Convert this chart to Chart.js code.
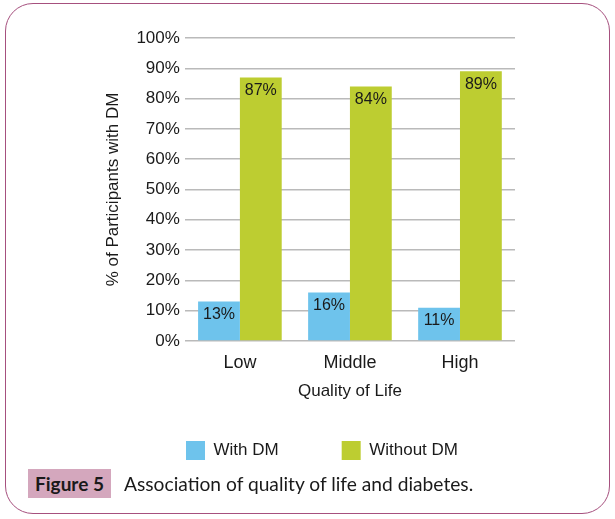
<!DOCTYPE html>
<html>
<head>
<meta charset="utf-8">
<script src="https://cdn.jsdelivr.net/npm/chart.js@4.4.1/dist/chart.umd.min.js"></script>
<style>
  html, body { margin: 0; padding: 0; width: 615px; height: 519px; overflow: hidden; background: #fff; }
  #frame { position: absolute; left: 5px; top: 3px; width: 605px; height: 511px; box-sizing: border-box;
           border: 1.5px solid #a6507e; border-radius: 28px; }
  #wrap { position: absolute; left: 0; top: 0; width: 615px; height: 480px; }
  #figlabel { position: absolute; left: 28px; top: 469px; width: 83px; height: 29px; background: #d4a7bd;
              font-family: Lato, "Open Sans", sans-serif; font-weight: bold; font-size: 19px; color: #1a1a1a;
              line-height: 29px; text-align: center; }
  #figtext { position: absolute; left: 124px; top: 469px; height: 29px; line-height: 29px;
             font-family: Lato, "Open Sans", sans-serif; font-size: 19.2px; color: #1a1a1a; white-space: nowrap; }
</style>
</head>
<body>
<div id="frame"></div>
<div id="wrap"><canvas id="c" width="615" height="480"></canvas></div>
<div id="figlabel">Figure 5</div>
<div id="figtext">Association of quality of life and diabetes.</div>
<script>
const categories = ["Low", "Middle", "High"];
const withDM = [13, 16, 11];
const withoutDM = [87, 84, 89];
const seriesNames = ["With DM", "Without DM"];
const yTicks = [0, 10, 20, 30, 40, 50, 60, 70, 80, 90, 100];

const FONT = '"Liberation Sans", Arial, sans-serif';

const valueLabels = {
  id: 'valueLabels',
  afterDatasetsDraw(chart) {
    const ctx = chart.ctx;
    ctx.save();
    ctx.font = '16px ' + FONT;
    ctx.fillStyle = '#1a1a1a';
    ctx.textAlign = 'center';
    ctx.textBaseline = 'middle';
    chart.data.datasets.forEach((ds, di) => {
      chart.getDatasetMeta(di).data.forEach((bar, i) => {
        ctx.fillText(ds.data[i] + '%', bar.x, bar.y + 13);
      });
    });
    ctx.restore();
  }
};

const legendNudge = {
  id: 'legendNudge',
  afterLayout(chart) {
    const lg = chart.legend;
    if (!lg) return;
    const dx = 17;
    lg.left += dx; lg.right += dx;
    lg.top = 378; lg.bottom = 475;
  }
};

new Chart(document.getElementById('c'), {
  type: 'bar',
  data: {
    labels: categories,
    datasets: [
      { label: seriesNames[0], data: withDM, backgroundColor: '#6EC3EC', borderWidth: 0,
        categoryPercentage: 0.76, barPercentage: 1.0 },
      { label: seriesNames[1], data: withoutDM, backgroundColor: '#BDCD31', borderWidth: 0,
        categoryPercentage: 0.76, barPercentage: 1.0 }
    ]
  },
  options: {
    responsive: false,
    animation: false,
    layout: { padding: { left: 95, right: 100, top: 38, bottom: 18 } },
    plugins: {
      legend: {
        position: 'bottom',
        maxHeight: 60,
        labels: { boxWidth: 19, boxHeight: 19, padding: 63, color: '#1a1a1a',
                  font: { family: FONT, size: 17 } }
      },
      tooltip: { enabled: false }
    },
    scales: {
      x: {
        grid: { display: false },
        border: { display: false },
        ticks: { color: '#1a1a1a', font: { family: FONT, size: 18 }, padding: 3 },
        title: { display: true, text: 'Quality of Life', color: '#1a1a1a',
                 font: { family: FONT, size: 17 }, padding: { top: 5, bottom: 0 } }
      },
      y: {
        min: 0, max: 100,
        afterBuildTicks(scale) { scale.ticks = yTicks.map(v => ({ value: v })); },
        ticks: { color: '#1a1a1a', font: { family: FONT, size: 17 }, padding: 5,
                 callback: v => v + '%' },
        grid: { color: '#bababa', lineWidth: 1.5, drawTicks: false },
        border: { display: false },
        title: { display: true, text: '% of Participants with DM', color: '#1a1a1a',
                 font: { family: FONT, size: 17 }, padding: { top: 8, bottom: 8 } }
      }
    }
  },
  plugins: [valueLabels, legendNudge]
});
</script>
</body>
</html>
